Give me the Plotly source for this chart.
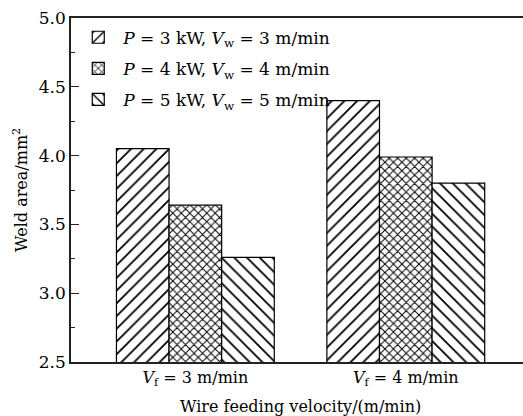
import plotly.graph_objects as go

categories = ["Vf3", "Vf4"]
tick_labels = ["<i>V</i><sub>f</sub> = 3 m/min", "<i>V</i><sub>f</sub> = 4 m/min"]
series_names = [
    "<i>P</i> = 3 kW, <i>V</i><sub>w</sub> = 3 m/min",
    "<i>P</i> = 4 kW, <i>V</i><sub>w</sub> = 4 m/min",
    "<i>P</i> = 5 kW, <i>V</i><sub>w</sub> = 5 m/min",
]
s1 = [4.05, 4.40]
s2 = [3.64, 3.99]
s3 = [3.26, 3.80]
series_values = [s1, s2, s3]
shapes = ["/", "x", "\\"]
sizes = [9, 6, 9]
solids = [0.2, 0.3, 0.2]

FONT = "DejaVu Serif"
fig = go.Figure()
for i, (name, vals, shp, sz, so) in enumerate(zip(series_names, series_values, shapes, sizes, solids)):
    fig.add_trace(go.Bar(
        x=categories, y=vals, name=name, base=0, legendgroup=f"g{i}",
        marker=dict(color="white", line=dict(color="black", width=1.2),
                    pattern=dict(shape=shp, size=sz, solidity=so,
                                 fgcolor="black", bgcolor="white")),
    ))

fig.update_layout(
    template="none",
    width=523, height=416,
    margin=dict(l=71, r=0, t=18, b=54, autoexpand=False),
    paper_bgcolor="white", plot_bgcolor="white",
    barmode="group", bargap=0.25, bargroupgap=0,
    hovermode=False,
    font=dict(family=FONT, size=16, color="black"),
    showlegend=True,
    legend=dict(x=0.005, y=0.995, xanchor="left", yanchor="top",
                bgcolor="rgba(0,0,0,0)", borderwidth=0,
                font=dict(size=17, family=FONT, color="black"),
                tracegroupgap=6, itemwidth=40),
    xaxis=dict(
        type="category", range=[-0.591, 1.557],
        tickmode="array", tickvals=categories, ticktext=tick_labels,
        showline=True, linecolor="#222", linewidth=1.5, mirror=True,
        ticks="", showgrid=False, zeroline=False, automargin=False,
        tickfont=dict(size=16, family=FONT, color="black"),
    ),
    yaxis=dict(
        range=[2.5, 5.0], dtick=0.5, tick0=2.5, tickformat=".1f",
        showline=True, linecolor="#222", linewidth=1.5, automargin=False,
        ticks="inside", ticklen=8, tickwidth=1.2, tickcolor="#222",
        minor=dict(dtick=0.25, ticks="inside", ticklen=4, tickwidth=1.2, tickcolor="#222"),
        showgrid=False, zeroline=False,
        tickfont=dict(size=17, family=FONT, color="black"),
    ),
    annotations=[
        dict(text="Wire feeding velocity/(m/min)", xref="paper", yref="paper",
             x=0.5 * (195.5 + 406 - 2 * 71) / 452, y=-0.128, xanchor="center", yanchor="middle",
             showarrow=False, font=dict(size=16, family=FONT, color="black")),
        dict(text="Weld area/mm<sup>2</sup>", xref="paper", yref="paper",
             x=-0.113, y=0.5, xanchor="center", yanchor="middle", textangle=-90,
             showarrow=False, font=dict(size=16, family=FONT, color="black")),
    ],
)

fig.write_html("out.html", config={"displayModeBar": False},
               post_script="document.body.style.margin='0';document.body.style.overflow='hidden';")
